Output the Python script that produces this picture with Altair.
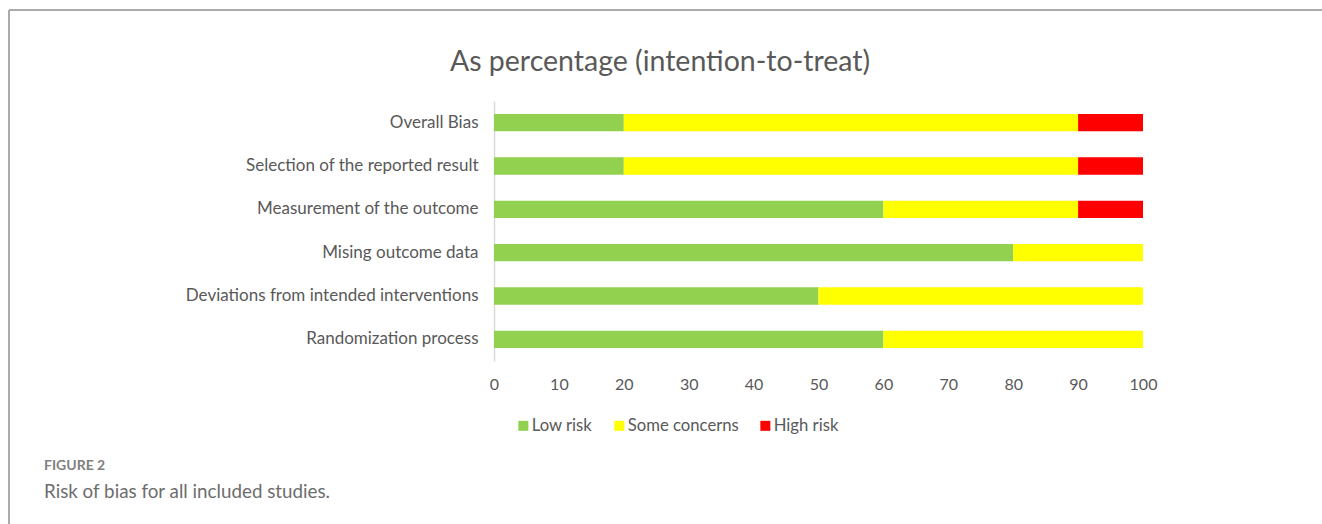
import altair as alt
import pandas as pd

# ---- data ----
categories = [
    "Overall Bias",
    "Selection of the reported result",
    "Measurement of the outcome",
    "Mising outcome data",
    "Deviations from intended interventions",
    "Randomization process",
]
low_risk = [20, 20, 60, 80, 50, 60]
some_concerns = [70, 70, 30, 20, 50, 40]
high_risk = [10, 10, 10, 0, 0, 0]
judgements = ["Low risk", "Some concerns", "High risk"]
colors = ["#92D050", "#FFFF00", "#FF0000"]
x_ticks = [0, 10, 20, 30, 40, 50, 60, 70, 80, 90, 100]
title_text = ["As percentage (intention-to-treat)"]
figure_label = ["FIGURE 2"]
caption_text = ["Risk of bias for all included studies."]

rows = []
series = [low_risk, some_concerns, high_risk]
for i, cat in enumerate(categories):
    for j, name in enumerate(judgements):
        rows.append({"domain": cat, "judgement": name, "order": j, "pct": series[j][i]})
df = pd.DataFrame(rows)

# layout (plot area in page pixels)
L, T, W, H = 494, 101, 649, 260
PAGE_W, PAGE_H = 1322, 524
FONT = "Lato"
TXT = "#595959"

bars = alt.Chart(df).mark_bar().encode(
    x=alt.X(
        "pct:Q",
        stack="zero",
        scale=alt.Scale(domain=[0, 100], nice=False),
        axis=alt.Axis(
            values=x_ticks, title=None, domain=False, ticks=False, grid=False,
            labelFontSize=16, labelColor=TXT, labelFont=FONT, labelPadding=15,
            labelFlush=False,
        ),
    ),
    y=alt.Y(
        "domain:N",
        sort=categories,
        title=None,
        scale=alt.Scale(paddingInner=0.6, paddingOuter=0.3),
        axis=alt.Axis(
            domainColor="#d9d9d9", domainWidth=1.5, ticks=False, grid=False,
            labelFontSize=17, labelColor=TXT, labelFont=FONT, labelPadding=16,
            labelLimit=500,
        ),
    ),
    color=alt.Color(
        "judgement:N",
        scale=alt.Scale(domain=judgements, range=colors),
        legend=alt.Legend(
            orient="none", direction="horizontal", legendX=21, legendY=316,
            title=None, symbolType="square", symbolSize=100, symbolStrokeWidth=0,
            labelFontSize=16.7, labelColor=TXT, labelFont=FONT, columnPadding=18,
            labelOffset=0,
        ),
    ),
    order=alt.Order("order:Q"),
)

one = pd.DataFrame({"k": [0]})

title = alt.Chart(pd.DataFrame({"t": title_text})).mark_text(
    fontSize=28.5, color=TXT, font=FONT, align="center", baseline="middle"
).encode(text="t:N", x=alt.value(660 - L), y=alt.value(62 - T))

fig_label = alt.Chart(pd.DataFrame({"t": figure_label})).mark_text(
    fontSize=14, color="#808080", font=FONT, fontWeight="bold", align="left", baseline="middle"
).encode(text="t:N", x=alt.value(44 - L), y=alt.value(466 - T))

caption = alt.Chart(pd.DataFrame({"t": caption_text})).mark_text(
    fontSize=18.8, color="#6d6d6d", font=FONT, align="left", baseline="middle"
).encode(text="t:N", x=alt.value(44 - L), y=alt.value(492 - T))

top_border = alt.Chart(one).mark_rule(color="#ababab", strokeWidth=2).encode(
    x=alt.value(9 - L), x2=alt.value(PAGE_W - L), y=alt.value(10 - T)
)
left_border = alt.Chart(one).mark_rule(color="#ababab", strokeWidth=2).encode(
    x=alt.value(9 - L), y=alt.value(10 - T), y2=alt.value(PAGE_H - T)
)

chart = alt.layer(top_border, left_border, bars, title, fig_label, caption).properties(
    width=W,
    height=H,
    autosize="none",
    padding={"left": L, "top": T, "right": PAGE_W - L - W, "bottom": PAGE_H - T - H},
    background="white",
).configure_view(stroke=None)

chart.save("out.html", embed_options={"renderer": "svg", "actions": False})
